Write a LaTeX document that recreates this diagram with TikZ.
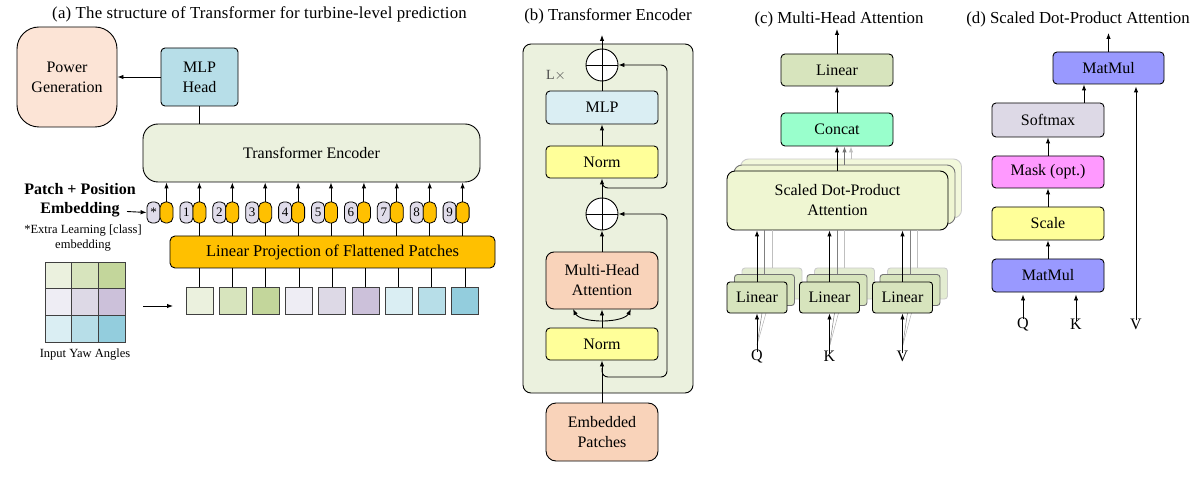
\documentclass[tikz,border=0pt]{standalone}
\usepackage{fontspec}
\setmainfont{Liberation Serif}
\newfontfamily\titlefont[LetterSpace=1.2]{Liberation Serif}
\usetikzlibrary{arrows.meta}
\definecolor{peachA}{HTML}{FCE4D6}
\definecolor{peachB}{HTML}{F9D3BA}
\definecolor{mlpblue}{HTML}{B7DEE8}
\definecolor{encgreen}{HTML}{EBF1DE}
\definecolor{projor}{HTML}{FFC000}
\definecolor{tokgray}{HTML}{E0DCEA}
\definecolor{pc1}{HTML}{EBF1DE}
\definecolor{pc2}{HTML}{D7E4BD}
\definecolor{pc3}{HTML}{C3D69B}
\definecolor{pc4}{HTML}{EEEDF4}
\definecolor{pc5}{HTML}{DDD9E6}
\definecolor{pc6}{HTML}{CCC1DA}
\definecolor{pc7}{HTML}{DAEEF3}
\definecolor{pc8}{HTML}{B7DEE8}
\definecolor{pc9}{HTML}{93CDDD}
\definecolor{mlpbc}{HTML}{DAEEF3}
\definecolor{normy}{HTML}{FFFF99}
\definecolor{lingreen}{HTML}{D7E4BD}
\definecolor{concatc}{HTML}{99FFCC}
\definecolor{sdpac}{HTML}{EFF6D2}
\definecolor{matmulc}{HTML}{9999FF}
\definecolor{softc}{HTML}{DDD9E6}
\definecolor{maskc}{HTML}{FF99FF}
\newcommand\mainsz{\fontsize{16}{20}\selectfont}
\newcommand\titlesz{\fontsize{16.8}{20}\selectfont}
\newcommand\smallsz{\fontsize{12.5}{15}\selectfont}
\begin{document}
\begin{tikzpicture}[x=1pt,y=-1pt,
  box/.style={draw, line width=0.9pt, rounded corners=4pt, inner sep=0pt, align=center, font=\mainsz},
  arr/.style={-{Latex[length=6pt,width=4.5pt]}, line width=0.9pt},
  ln/.style={line width=0.9pt},
  tokg/.style={draw, line width=0.8pt, fill=tokgray, rounded corners=5pt, minimum width=13pt, minimum height=21pt, inner sep=0pt, font=\fontsize{13}{13}\selectfont},
  toko/.style={draw, line width=0.8pt, fill=projor, rounded corners=5.5pt, minimum width=13pt, minimum height=21pt, inner sep=0pt},
  patch/.style={draw=black!75, line width=0.8pt, minimum width=27pt, minimum height=27pt, inner sep=0pt},
  ttl/.style={font=\titlesz, anchor=base, inner sep=0pt}
]
\useasboundingbox (0,0) rectangle (1196,478);

% ---------------- (a) ----------------
\node[ttl, font=\titlefont\titlesz] (ta) at (259.5,19) {(a) The structure of Transformer for turbine-level prediction};
\node[box, fill=peachA, rounded corners=22pt, minimum width=100pt, minimum height=100pt] (pg) at (67,77) {Power\\Generation};
\node[box, fill=mlpblue, minimum width=77pt, minimum height=58pt] (mlph) at (199.5,77) {MLP\\Head};
\node[box, fill=encgreen, rounded corners=15pt, minimum width=337pt, minimum height=58pt] (te) at (311.5,153) {Transformer Encoder};
\draw[arr] (mlph.west) -- (pg.east);
\draw[ln] (mlph.south) -- (mlph.south |- te.north);

\node[box, fill=projor, rounded corners=5pt, minimum width=325pt, minimum height=32pt, font=\fontsize{16.5}{20}\selectfont] (lp) at (332.5,252) {Linear Projection of Flattened Patches};

\foreach \i/\lab in {0/{*},1/1,2/2,3/3,4/4,5/5,6/6,7/7,8/8,9/9} {
  \pgfmathsetmacro\xx{166+32.9*\i}
  \node[tokg] (g\i) at (\xx-12.5,212.5) {\lab};
  \node[toko] (o\i) at (\xx+0.5,212.5) {};
  \draw[arr] (o\i.north) -- (o\i.north |- te.south);
}
\foreach \i in {1,...,9} {
  \draw[ln] (o\i.south) -- (o\i.south |- lp.north);
}
\foreach \i in {1,...,9} {
  \node[patch, fill=pc\i] (p\i) at ({199.5+33.2*(\i-1)},300.5) {};
  \draw[ln] (p\i.north) -- (p\i.north |- lp.south);
}

\node[font=\bfseries\fontsize{16}{19}\selectfont, align=center, inner sep=0pt] (ppe) at (80,200) {Patch + Position\\Embedding};
\coordinate (ppeA) at (127,211.5);
\draw[arr] (ppeA) -- (g0.west);
\node[font=\smallsz, align=center, inner sep=0pt] (extra) at (83,238.5) {*Extra Learning [class]\\embedding};

\foreach \r in {0,1,2} {
  \foreach \c in {0,1,2} {
    \pgfmathtruncatemacro\k{3*\r+\c+1}
    \draw[draw=black!75, line width=0.8pt, fill=pc\k] ({45+26.67*\c},{262+26.67*\r}) rectangle +(26.67,26.67);
  }
}
\coordinate (gridA) at (143,306);
\coordinate (gridB) at (173,306);
\draw[arr] (gridA) -- (gridB);
\node[font=\smallsz, inner sep=0pt] (yaw) at (85,355) {Input Yaw Angles};

% ---------------- (b) ----------------
\node[ttl] (tb) at (608,21) {(b) Transformer Encoder};
\node[draw, line width=0.9pt, fill=encgreen, rounded corners=8pt, minimum width=170pt, minimum height=349pt] (encb) at (608,218.5) {};
\node[font=\fontsize{14}{14}\selectfont, text=black!70, inner sep=0pt] (lx) at (556,76) {L$\times$};
\node[draw, line width=0.9pt, fill=white, circle, minimum size=32pt, inner sep=0pt] (c1) at (602,65) {};
\node[draw, line width=0.9pt, fill=white, circle, minimum size=32pt, inner sep=0pt] (c2) at (602,214) {};
\draw[ln] (c1.north) -- (c1.south) (c1.west) -- (c1.east);
\draw[ln] (c2.north) -- (c2.south) (c2.west) -- (c2.east);
\node[box, fill=mlpbc, minimum width=112pt, minimum height=33pt] (mlpb) at (602,107.5) {MLP};
\node[box, fill=normy, minimum width=112pt, minimum height=32pt] (n1) at (602,162) {Norm};
\node[box, fill=peachB, rounded corners=8pt, minimum width=112pt, minimum height=57pt] (mha) at (602,280.5) {Multi-Head\\Attention};
\node[box, fill=normy, minimum width=112pt, minimum height=32pt] (n2) at (602,344) {Norm};
\node[box, fill=peachB, rounded corners=10pt, minimum width=112pt, minimum height=58pt] (emb) at (602,432) {Embedded\\Patches};
\coordinate (outb) at (602,35);
\draw[arr] (c1.north) -- (outb);
\draw[ln] (mlpb.north) -- (c1.south);
\draw[arr] (n1.north) -- (mlpb.south);
\draw[arr] (c2.north) -- (n1.south);
\draw[arr] (mha.north) -- (c2.south);
\draw[arr] (n2.north) -- (mha.south);
\draw[arr] (emb.north) -- (n2.south);
\coordinate (r1s) at (602,368);
\coordinate (r1c) at (667,377);
\draw[arr, rounded corners=6pt] (r1s) |- (r1c) |- (c2.east);
\coordinate (r2s) at (602,181);
\coordinate (r2c) at (667,188);
\draw[arr, rounded corners=6pt] (r2s) |- (r2c) |- (c1.east);
\coordinate (mq) at (602,321);
\coordinate (ml) at (573,309);
\coordinate (mr) at (631,309);
\draw[arr] (mq) .. controls (586,321) and (577,317) .. (ml);
\draw[arr] (mq) .. controls (618,321) and (627,317) .. (mr);

% ---------------- (c) ----------------
\node[ttl] (tc) at (839,24) {(c) Multi-Head Attention};
\node[box, fill=lingreen, minimum width=112pt, minimum height=32pt] (lt) at (837,70) {Linear};
\node[box, fill=concatc, minimum width=112pt, minimum height=33pt] (cc) at (837,129.5) {Concat};
\coordinate (outc) at (837,29);
\draw[arr] (lt.north) -- (outc);
\draw[arr] (cc.north) -- (lt.south);

\node[draw=black!20, line width=0.9pt, fill=sdpac!80, rounded corners=8pt, minimum width=221pt, minimum height=59pt] (sd2) at (851,188.5) {};
\node[draw=black!55, line width=0.9pt, fill=sdpac, rounded corners=8pt, minimum width=221pt, minimum height=59pt] (sd1) at (844.5,194.5) {};
\node[box, fill=sdpac, rounded corners=8pt, minimum width=221pt, minimum height=59pt] (sd) at (837.5,200.5) {Scaled Dot-Product\\Attention};
\draw[arr, draw=black!25] (sd2.north) -- (sd2.north |- cc.south);
\draw[arr, draw=black!55] (sd1.north) -- (sd1.north |- cc.south);
\draw[arr] (sd.north -| cc.south) -- (cc.south);

\foreach \n/\x/\lab in {q/757/Q,k/829.5/K,v/902.5/V} {
  \node[draw=black!20, line width=0.9pt, fill=lingreen!70, rounded corners=3pt, minimum width=60pt, minimum height=31pt] (l\n2) at (\x+15,283.5) {};
  \node[draw=black!55, line width=0.9pt, fill=lingreen, rounded corners=3pt, minimum width=60pt, minimum height=31pt] (l\n1) at (\x+7.5,290) {};
  \node[font=\mainsz, inner sep=0pt] (in\n) at (\x,356) {\lab};
  \draw[line width=0.5pt, draw=black!30] (in\n.north) ++(0,-4) -- (\x+9,313);
  \draw[line width=0.5pt, draw=black!50] (in\n.north) ++(0,-4) -- (\x+5,313);
  \node[box, fill=lingreen, rounded corners=3pt, minimum width=60pt, minimum height=31pt] (l\n) at (\x,297.5) {Linear};
  \draw[arr] ([yshift=-3pt]in\n.north) -- (l\n.south);
  \draw[line width=0.9pt, draw=black!25] (l\n2.north) -- (l\n2.north |- sd.south);
  \draw[line width=0.9pt, draw=black!50] (l\n1.north) -- (l\n1.north |- sd.south);
  \draw[arr] (l\n.north) -- (l\n.north |- sd.south);
}

% ---------------- (d) ----------------
\node[ttl] (td) at (1078,24) {(d) Scaled Dot-Product Attention};
\node[box, fill=matmulc, minimum width=111pt, minimum height=32pt] (mm2) at (1108.5,68) {MatMul};
\node[box, fill=softc, minimum width=112pt, minimum height=34pt] (sm) at (1048,120) {Softmax};
\node[box, fill=maskc, minimum width=112pt, minimum height=32pt] (mk) at (1048,172) {Mask (opt.)};
\node[box, fill=normy, minimum width=112pt, minimum height=33pt] (sc) at (1048,223.5) {Scale};
\node[box, fill=matmulc, minimum width=112pt, minimum height=33pt] (mm1) at (1048,275.5) {MatMul};
\coordinate (outd) at (1108.5,33);
\draw[arr] (mm2.north) -- (outd);
\draw[arr] (mm1.north) -- (sc.south);
\draw[arr] (sc.north) -- (mk.south);
\draw[arr] (mk.north) -- (sm.south);
\coordinate (smo) at (1084,103);
\draw[arr] (smo) -- (smo |- mm2.south);
\node[font=\mainsz, inner sep=0pt] (qd) at (1023,324) {Q};
\node[font=\mainsz, inner sep=0pt] (kd) at (1076,324) {K};
\node[font=\mainsz, inner sep=0pt] (vd) at (1136,324) {V};
\draw[arr] ([yshift=-2pt]qd.north) -- ([yshift=-2pt]qd.north |- mm1.south);
\draw[arr] ([yshift=-2pt]kd.north) -- ([yshift=-2pt]kd.north |- mm1.south);
\draw[arr] ([yshift=-2pt]vd.north) -- ([yshift=-2pt]vd.north |- mm2.south);
\end{tikzpicture}
\end{document}
